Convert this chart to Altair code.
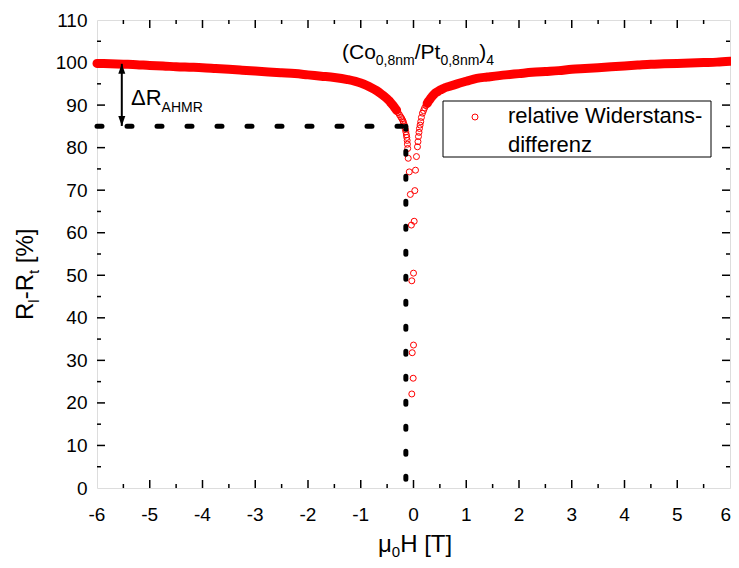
import altair as alt
import pandas as pd

# ---------------- data ----------------
# branch coming from -6 T (field sweeping towards 0)
left_x = [-6.0, -5.75, -5.5, -5.25, -5.0, -4.75, -4.5, -4.25, -4.0, -3.75, -3.5, -3.25,
          -3.0, -2.75, -2.5, -2.25, -2.0, -1.75, -1.5, -1.25, -1.0, -0.9, -0.8, -0.7,
          -0.6, -0.55, -0.5, -0.46, -0.42, -0.385, -0.35, -0.32, -0.29, -0.265, -0.24,
          -0.22, -0.2, -0.19, -0.175, -0.165, -0.155, -0.145, -0.135, -0.127, -0.12,
          -0.115, -0.11, -0.1, -0.08, -0.06, -0.04, -0.032, -0.024, -0.032]
left_y = [99.8, 99.7, 99.6, 99.5, 99.3, 99.2, 99.0, 98.9, 98.8, 98.6, 98.4, 98.2,
          98.0, 97.8, 97.6, 97.4, 97.1, 96.8, 96.5, 96.0, 95.2, 94.7, 94.1, 93.4,
          92.5, 92.0, 91.5, 91.0, 90.4, 89.9, 89.3, 88.8, 88.2, 87.7, 87.2,
          86.8, 86.3, 85.9, 85.4, 84.9, 84.3, 83.7, 83.0, 82.4, 81.7,
          80.8, 79.8, 77.5, 74.3, 69.0, 61.8, 48.7, 31.8, 22.1]
# branch going from 0 to +6 T
right_x = [-0.006, 0.0, 0.0, 0.013, 0.025, 0.038, 0.056, 0.075, 0.085, 0.094, 0.104, 0.113,
           0.125, 0.137, 0.15, 0.17, 0.19, 0.21, 0.235, 0.26, 0.29, 0.32, 0.35, 0.38, 0.41,
           0.45, 0.5, 0.55, 0.6, 0.65, 0.83, 1.0, 1.2, 1.4, 1.75, 2.0, 2.25, 2.5, 2.75, 3.0,
           3.25, 3.5, 3.75, 4.0, 4.25, 4.5, 4.75, 5.0, 5.25, 5.5, 5.75, 6.0]
right_y = [25.8, 33.6, 50.5, 62.7, 69.9, 74.7, 77.9, 80.2, 81.4, 82.6, 83.6, 84.5,
           85.3, 86.1, 87.1, 88.1, 88.7, 89.3, 89.9, 90.4, 91.0, 91.5, 92.0, 92.4, 92.8,
           93.1, 93.5, 93.8, 94.1, 94.3, 95.0, 95.6, 96.3, 96.6, 97.1, 97.4, 97.7, 97.9, 98.1, 98.4,
           98.6, 98.8, 99.0, 99.2, 99.4, 99.6, 99.7, 99.8, 99.9, 100.0, 100.1, 100.3]
assert len(left_x) == len(left_y) and len(right_x) == len(right_y)

# dotted guide lines and the Delta-R arrow
guide_level = [85]
guide_x_start = [-6.0]
guide_x_corner = [-0.145]
arrow_x = [-5.53]
arrow_top = [99.7]
arrow_bottom = [85.1]

# tick labels / tick positions
x_tick_labels = [-6, -5, -4, -3, -2, -1, 0, 1, 2, 3, 4, 5, 6]
x_major_ticks = [-5, -4, -3, -2, -1, 0, 1, 2, 3, 4, 5]
x_minor_ticks = [-5.5, -4.5, -3.5, -2.5, -1.5, -0.5, 0.5, 1.5, 2.5, 3.5, 4.5, 5.5]
y_tick_labels = [0, 10, 20, 30, 40, 50, 60, 70, 80, 90, 100, 110]
y_major_ticks = [10, 20, 30, 40, 50, 60, 70, 80, 90, 100]
y_minor_ticks = [5, 15, 25, 35, 45, 55, 65, 75, 85, 95, 105]

legend_label = ["relative Widerstans-", "differenz"]

# ---------------- layout ----------------
FONT = "Liberation Sans"
RED = "#ff0000"
PW, PH = 633, 468

xs = alt.Scale(domain=[-6, 6], nice=False, zero=False)
ys = alt.Scale(domain=[0, 110], nice=False, zero=False)
yaxis = alt.Axis(values=y_tick_labels, title=None, grid=False, ticks=False, tickSize=0,
                 domain=False, labelPadding=10, labelFontSize=19, labelFont=FONT,
                 labelColor="black", labelOverlap=False)


def X(f="x"):
    return alt.X(f"{f}:Q", scale=xs, axis=None)


def Y(f="y"):
    return alt.Y(f"{f}:Q", scale=ys, axis=yaxis)


df = pd.DataFrame({
    "x": left_x + right_x,
    "y": left_y + right_y,
    "branch": ["down"] * len(left_x) + ["up"] * len(right_x),
    "order": list(range(len(left_x) + len(right_x))),
})
band = df[((df["branch"] == "down") & (df["x"] <= -0.3)) |
          ((df["branch"] == "up") & (df["x"] >= 0.26))]

layers = []

# inward ticks on all four sides
for vals, ln in ((x_major_ticks, 8), (x_minor_ticks, 4)):
    t = pd.DataFrame({"x": vals})
    layers.append(alt.Chart(t).mark_rule(color="black", strokeWidth=1.5).encode(
        x=X(), y=alt.value(PH), y2=alt.value(PH - ln)))
    layers.append(alt.Chart(t).mark_rule(color="black", strokeWidth=1.5).encode(
        x=X(), y=alt.value(0), y2=alt.value(ln)))
for vals, ln in ((y_major_ticks, 8), (y_minor_ticks, 4)):
    t = pd.DataFrame({"y": vals})
    layers.append(alt.Chart(t).mark_rule(color="black", strokeWidth=1.5).encode(
        y=Y(), x=alt.value(0), x2=alt.value(ln)))
    layers.append(alt.Chart(t).mark_rule(color="black", strokeWidth=1.5).encode(
        y=Y(), x=alt.value(PW), x2=alt.value(PW - ln)))

# x tick labels (hyphen minus, last one kept inside the page)
xl = pd.DataFrame({"x": x_tick_labels, "lab": [str(v) for v in x_tick_labels]})
layers.append(alt.Chart(xl[xl["x"] < 6]).mark_text(
    font=FONT, fontSize=19, color="black", align="center", baseline="alphabetic").encode(
    x=X(), y=alt.value(PH + 33), text="lab:N"))
layers.append(alt.Chart(xl[xl["x"] == 6]).mark_text(
    font=FONT, fontSize=19, color="black", align="right", baseline="alphabetic", dx=1).encode(
    x=X(), y=alt.value(PH + 33), text="lab:N"))

# dense measurement band
layers.append(alt.Chart(band).mark_line(color=RED, strokeWidth=9, strokeCap="round",
                                        interpolate="monotone").encode(
    x=X(), y=Y(), detail="branch:N", order="order:Q"))
layers.append(alt.Chart(df).mark_point(shape="circle", filled=False, color=RED, size=36,
                                       strokeWidth=1, opacity=1).encode(x=X(), y=Y()))

# dotted guides
g = pd.DataFrame({"x": guide_x_start, "x2": guide_x_corner, "y": guide_level, "y0": [0]})
layers.append(alt.Chart(g).mark_rule(color="black", strokeWidth=5, strokeCap="round",
                                     strokeDash=[5, 25]).encode(
    x=X(), x2="x2:Q", y=Y()))
layers.append(alt.Chart(g).mark_rule(color="black", strokeWidth=5, strokeCap="round",
                                     strokeDash=[3, 22]).encode(
    x=X("x2"), y=Y(), y2="y0:Q"))

# Delta R arrow
a = pd.DataFrame({"x": arrow_x, "y": arrow_top, "yb": arrow_bottom})
layers.append(alt.Chart(a).mark_rule(color="black", strokeWidth=2).encode(
    x=X(), y=Y(), y2="yb:Q"))
layers.append(alt.Chart(a).mark_point(shape="M0,0L0.7,2L-0.7,2Z", filled=True, color="black",
                                      size=100, opacity=1).encode(x=X(), y=Y()))
layers.append(alt.Chart(a).mark_point(shape="M0,0L0.7,-2L-0.7,-2Z", filled=True, color="black",
                                      size=100, opacity=1).encode(x=X(), y=Y("yb")))

# legend box
dummy = pd.DataFrame({"k": [0]})
layers.append(alt.Chart(dummy).mark_rect(fill="white", stroke="black", strokeWidth=1).encode(
    x=alt.value(346), x2=alt.value(614), y=alt.value(81), y2=alt.value(137)))
layers.append(alt.Chart(dummy).mark_point(shape="circle", filled=False, color=RED, size=36,
                                          strokeWidth=1, opacity=1).encode(
    x=alt.value(378), y=alt.value(97)))

# ---------------- text helpers ----------------
WID = {"(": .333, "C": .722, "o": .556, "0": .556, ",": .278, "8": .556, "n": .556, "m": .833,
       "/": .278, "P": .667, "t": .278, ")": .333, "4": .556, "μ": .576, "H": .722, " ": .278,
       "[": .278, "T": .611, "]": .278, "R": .722, "l": .222, "-": .333, "%": .889, "Δ": .668,
       "A": .667, "M": .833}


def txt(s, x, y, size, angle=0):
    kw = dict(align="left", baseline="alphabetic", font=FONT, fontSize=size, color="black")
    if angle:
        kw["angle"] = angle
    return alt.Chart(pd.DataFrame({"t": [s]})).mark_text(**kw).encode(
        text="t:N", x=alt.value(x), y=alt.value(y))


def compose(segs, x, y, main, sub, dsub, vertical=False):
    out = []
    pos = 0.0
    for s, is_sub in segs:
        size = sub if is_sub else main
        if s.strip():
            if vertical:
                out.append(txt(s, x + (dsub if is_sub else 0), y - pos, size, angle=270))
            else:
                out.append(txt(s, x + pos, y + (dsub if is_sub else 0), size))
        pos += sum(WID[c] for c in s) * size
    return out


layers += compose([("(Co", 0), ("0,8nm", 1), ("/Pt", 0), ("0,8nm", 1), (")", 0), ("4", 1)],
                  245, 39, 21, 14, 6)
layers += compose([("ΔR", 0), ("AHMR", 1)], 34, 85, 22, 14, 7)
layers += compose([("μ", 0), ("0", 1), ("H [T]", 0)], 281, 532, 24, 15, 5)
layers += compose([("R", 0), ("l", 1), ("-R", 0), ("t", 1), (" ", 0), ("[%]", 0)],
                  -64, 300, 24, 15, 6, vertical=True)
layers.append(txt(legend_label[0], 411, 103, 22))
layers.append(txt(legend_label[1], 411, 132, 22))

chart = alt.layer(*layers).properties(
    width=PW, height=PH,
    autosize=alt.AutoSizeParams(type="none"),
    padding={"left": 89, "top": 12, "right": 1, "bottom": 72},
).configure_view(stroke="black", strokeWidth=2).configure(background="white")

chart.save("out.html", embed_options={"renderer": "svg", "actions": False})
